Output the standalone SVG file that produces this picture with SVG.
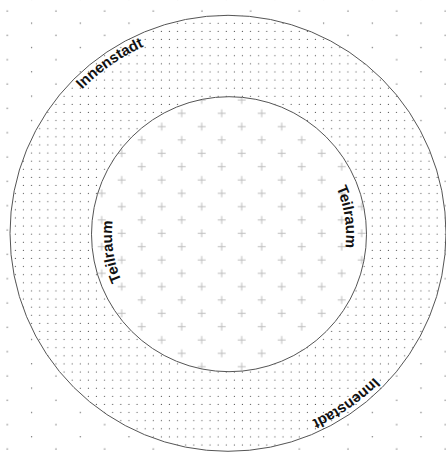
<svg xmlns="http://www.w3.org/2000/svg" xmlns:xlink="http://www.w3.org/1999/xlink" width="446" height="458" viewBox="0 0 446 458">
  <style>
    .ring { stroke: #555; stroke-width: 1; }
    .lbl { font-family: "Liberation Sans", Arial, sans-serif; font-weight: bold; font-size: 15px; fill: #111; }
    .dot { fill: #555; }
    .cross { stroke: #bdbdbd; stroke-width: 1; fill: none; }
  </style>
  <defs>
    <pattern id="bgDots" patternUnits="userSpaceOnUse" x="1.3" y="5" width="48.67" height="24.33">
      <circle class="dot" cx="6" cy="6" r="0.65"/>
      <circle class="dot" cx="30.33" cy="18.17" r="0.65"/>
    </pattern>
    <pattern id="ringDots" patternUnits="userSpaceOnUse" x="3.3" y="19.3" width="8.11" height="8.11">
      <circle class="dot" cx="4" cy="4" r="0.6"/>
    </pattern>
    <pattern id="crosses" patternUnits="userSpaceOnUse" x="171.7" y="106.63" width="40" height="26.67">
      <path class="cross" d="M6,6.67H14M10,2.67V10.67M26,20H34M30,16V24"/>
    </pattern>
    <path id="pOuterTL" d="M58.03,351.43 A207,207 0 0 1 397.97,115.17"/>
    <path id="pOuterBR" d="M397.97,115.17 A207,207 0 0 1 58.03,351.43"/>
    <path id="pInnerR" d="M211.91,118.45 A117,117 0 0 1 246.09,349.95"/>
    <path id="pInnerL" d="M246.09,349.95 A117,117 0 0 1 211.91,118.45"/>
  </defs>

  <rect x="0" y="0" width="446" height="458" fill="#fff"/>
  <rect x="0" y="0" width="446" height="458" fill="url(#bgDots)"/>

  <g id="innenstadt">
    <circle cx="228" cy="233.3" r="218" fill="#fff"/>
    <circle class="ring" cx="228" cy="233.3" r="218" fill="url(#ringDots)"/>
    <text class="lbl"><textPath xlink:href="#pOuterTL" href="#pOuterTL" startOffset="50%" text-anchor="middle">Innenstadt</textPath></text>
    <text class="lbl"><textPath xlink:href="#pOuterBR" href="#pOuterBR" startOffset="50%" text-anchor="middle">Innenstadt</textPath></text>
  </g>

  <g id="teilraum">
    <circle cx="229" cy="234.2" r="137.5" fill="#fff"/>
    <circle class="ring" cx="229" cy="234.2" r="137.5" fill="url(#crosses)"/>
    <text class="lbl"><textPath xlink:href="#pInnerR" href="#pInnerR" startOffset="50%" text-anchor="middle">Teilraum</textPath></text>
    <text class="lbl"><textPath xlink:href="#pInnerL" href="#pInnerL" startOffset="50%" text-anchor="middle">Teilraum</textPath></text>
  </g>
</svg>
